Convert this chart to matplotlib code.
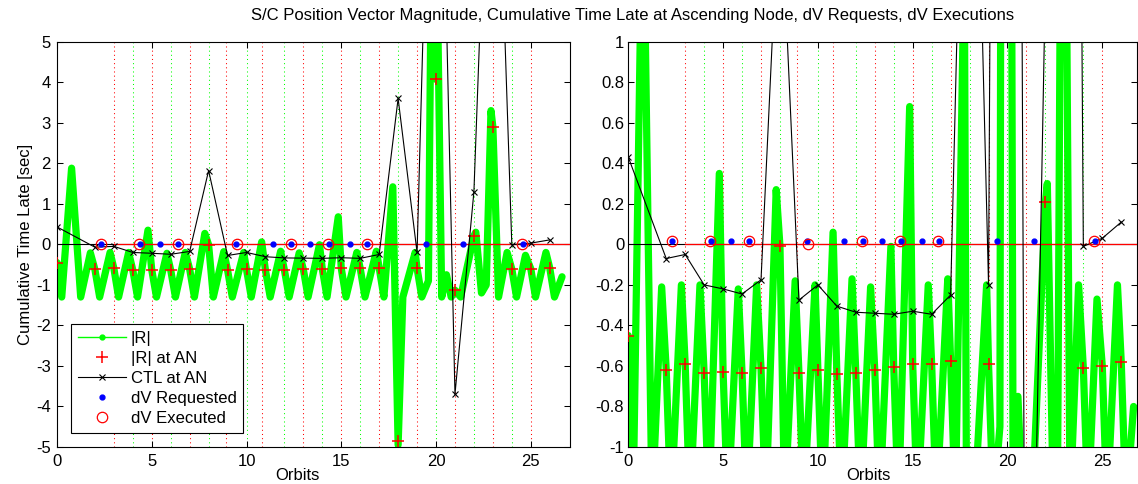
import matplotlib
matplotlib.use('Agg')
import matplotlib.pyplot as plt
from matplotlib.lines import Line2D

plt.rcParams['font.family'] = ['Liberation Sans', 'DejaVu Sans']
plt.rcParams['axes.unicode_minus'] = False

# ---------------- data ----------------
# |R| (position vector magnitude) signal: samples (orbit, value)
r_orbit = [0.0, 0.25, 0.77, 1.25, 1.76, 2.0, 2.25, 2.8, 3.0, 3.25, 3.78, 4.0, 4.25, 4.8,
           5.0, 5.25, 5.8, 6.0, 6.25, 6.77, 7.0, 7.25, 7.8, 8.0, 8.25, 8.8, 9.0, 9.25,
           9.85, 10.0, 10.25, 10.8, 11.0, 11.25, 11.8, 12.0, 12.25, 12.78, 13.0, 13.25,
           13.85, 14.0, 14.25, 14.84, 15.0, 15.25, 15.82, 16.0, 16.25, 16.85, 17.0, 17.25,
           17.72, 18.0, 18.25, 18.9, 19.0, 19.25, 19.6, 19.75, 20.0, 20.05, 20.3, 20.55,
           20.8, 21.0, 21.3, 22.0, 22.1, 22.4, 22.65, 22.9, 23.0, 23.3, 23.75, 24.0, 24.25,
           24.72, 25.0, 25.25, 25.8, 26.0, 26.25, 26.65]
r_value = [-0.45, -1.3, 1.88, -1.3, -0.21, -0.62, -1.3, -0.2, -0.59, -1.3, -0.2, -0.635, -1.3, 0.35,
           -0.63, -1.3, -0.22, -0.635, -1.3, -0.2, -0.61, -1.3, 0.27, -0.01, -1.3, -0.18, -0.635, -1.3,
           -0.2, -0.62, -1.3, 0.06, -0.64, -1.3, -0.17, -0.635, -1.3, -0.21, -0.62, -1.3,
           -0.01, -0.605, -1.3, 0.68, -0.59, -1.3, -0.2, -0.59, -1.3, -0.17, -0.575, -1.3,
           1.42, -4.95, -1.3, -0.2, -0.59, -1.3, -0.9, 7.0, 4.07, 7.0, -1.3, -0.75,
           -1.3, -1.13, -1.3, 0.21, 0.3, -1.2, -1.0, 3.3, 2.9, -1.3, -0.2, -0.61, -1.3,
           -0.27, -0.6, -1.3, -0.2, -0.58, -1.3, -0.8]

# |R| at ascending node
an_orbit = [0, 2, 3, 4, 5, 6, 7, 8, 9, 10, 11, 12, 13, 14, 15, 16, 17, 18, 19, 20, 21, 22, 23, 24, 25, 26]
an_value = [-0.45, -0.62, -0.59, -0.635, -0.63, -0.635, -0.61, -0.01, -0.635, -0.62, -0.64, -0.635,
            -0.62, -0.605, -0.59, -0.59, -0.575, -4.85, -0.59, 4.07, -1.13, 0.21, 2.9, -0.61, -0.6, -0.58]

# Cumulative time late at ascending node
ctl_orbit = [0, 2, 3, 4, 5, 6, 7, 8, 9, 10, 11, 12, 13, 14, 15, 16, 17, 18, 19, 20, 21, 22, 23, 24, 25, 26]
ctl_sec = [0.43, -0.07, -0.05, -0.2, -0.22, -0.245, -0.175, 1.82, -0.275, -0.2, -0.305, -0.335,
           -0.34, -0.345, -0.33, -0.345, -0.25, 3.6, -0.2, 17.0, -3.7, 1.3, 14.0, -0.01, 0.03, 0.11]

# dV requests / executions
dv_req_orbit = [2.32, 4.37, 5.44, 6.38, 9.43, 11.38, 12.37, 13.37, 14.37, 15.47, 16.38, 19.47, 21.4, 24.61]
dv_req_value = [0.015, 0.015, 0.015, 0.015, 0.015, 0.015, 0.015, 0.015, 0.015, 0.015, 0.015, 0.015, 0.015, 0.015]
dv_exe_orbit = [2.31, 4.31, 6.37, 9.49, 12.33, 14.32, 16.34, 24.56]
dv_exe_value = [0.015, 0.015, 0.015, 0.0, 0.015, 0.015, 0.015, 0.015]

# vertical event markers
red_event_orbit = [3, 5, 7, 8.9, 10.8, 13, 15, 17, 19, 21, 23, 25]
green_event_orbit = [4, 6, 8, 10, 12, 14, 16, 18, 20, 22, 24]
exec_line_start = 3.0

x_ticks = [0, 5, 10, 15, 20, 25]
left_yticks = [-5, -4, -3, -2, -1, 0, 1, 2, 3, 4, 5]
left_yticklabels = ['-5', '-4', '-3', '-2', '-1', '0', '1', '2', '3', '4', '5']
right_yticks = [-1, -0.8, -0.6, -0.4, -0.2, 0, 0.2, 0.4, 0.6, 0.8, 1]
right_yticklabels = ['-1', '-0.8', '-0.6', '-0.4', '-0.2', '0', '0.2', '0.4', '0.6', '0.8', '1']

title_text = 'S/C Position Vector Magnitude, Cumulative Time Late at Ascending Node, dV Requests, dV Executions'

# ---------------- figure ----------------
W, H = 1138, 484
fig = plt.figure(figsize=(W / 100, H / 100), dpi=100)
FS = 12

GREEN = '#00ff00'
RED = '#ff0000'
BLUE = '#0000ff'


def draw_panel(ax, xmax, ylim, yticks, yticklabels, ypad):
    for xv in red_event_orbit:
        ax.axvline(xv, color=RED, lw=0.75, ls=(0, (1, 3)), zorder=1)
    for xv in green_event_orbit:
        ax.axvline(xv, color=GREEN, lw=0.75, ls=(0, (1, 3)), zorder=1)
    ax.plot(r_orbit, r_value, color=GREEN, lw=5.2, solid_joinstyle='round',
            solid_capstyle='round', zorder=2)
    ax.axhline(0, color='black', lw=0.8, zorder=3)
    ax.plot([exec_line_start, xmax], [0, 0], color=RED, lw=0.9, zorder=3)
    ax.plot(an_orbit, an_value, ls='none', marker='+', ms=8, mew=1.1, color=RED, zorder=4)
    ax.plot(ctl_orbit, ctl_sec, color='black', lw=0.8, marker='x', ms=4.5, mew=0.8, zorder=5)
    ax.plot(dv_req_orbit, dv_req_value, ls='none', marker='o', ms=3.5, mfc=BLUE, mec=BLUE, zorder=6)
    ax.plot(dv_exe_orbit, dv_exe_value, ls='none', marker='o', ms=7.5, mfc='none', mec=RED,
            mew=0.9, zorder=7)
    ax.set_xlim(0, xmax)
    ax.set_ylim(*ylim)
    ax.set_xticks(x_ticks)
    ax.set_xticklabels([str(t) for t in x_ticks])
    ax.set_yticks(yticks)
    ax.set_yticklabels(yticklabels)
    ax.tick_params(direction='in', top=True, right=True, length=4, width=0.75,
                   labelsize=FS, colors='black')
    ax.tick_params(axis='x', pad=5)
    ax.tick_params(axis='y', pad=ypad)
    for s in ax.spines.values():
        s.set_linewidth(0.8)
        s.set_color('black')


ax1 = fig.add_axes([57 / W, (H - 447) / H, 513 / W, 405.3 / H])
draw_panel(ax1, 27.07, (-5, 5), left_yticks, left_yticklabels, 4.5)
ax1.set_ylabel('Cumulative Time Late [sec]', fontsize=FS, labelpad=2)

ax2 = fig.add_axes([628.3 / W, (H - 447) / H, 508.5 / W, 405.3 / H])
draw_panel(ax2, 26.82, (-1, 1), right_yticks, right_yticklabels, 3)

fig.text(297 / W, (H - 468) / H, 'Orbits', fontsize=FS, ha='center', va='top')
fig.text(868 / W, (H - 468) / H, 'Orbits', fontsize=FS, ha='center', va='top')
fig.text(633 / W, (H - 8) / H, title_text, fontsize=FS, ha='center', va='top')

handles = [
    Line2D([], [], color=GREEN, lw=1, marker='.', ms=7),
    Line2D([], [], color=RED, ls='none', marker='+', ms=8, mew=1.1),
    Line2D([], [], color='black', lw=0.8, marker='x', ms=4.5, mew=0.8),
    Line2D([], [], color=BLUE, ls='none', marker='o', ms=3.5, mfc=BLUE, mec=BLUE),
    Line2D([], [], color=RED, ls='none', marker='o', ms=7.5, mfc='none', mew=0.9),
]
labels = ['|R|', '|R| at AN', 'CTL at AN', 'dV Requested', 'dV Executed']
leg = ax1.legend(handles, labels, loc='lower left', bbox_to_anchor=(0.027, 0.035),
                 borderaxespad=0, fontsize=FS, fancybox=False, framealpha=1,
                 edgecolor='black', handlelength=2.9, handletextpad=0.3,
                 labelspacing=0.3, borderpad=0.4)
leg.get_frame().set_linewidth(0.8)
leg.set_zorder(20)

fig.savefig('out.png', dpi=100)
